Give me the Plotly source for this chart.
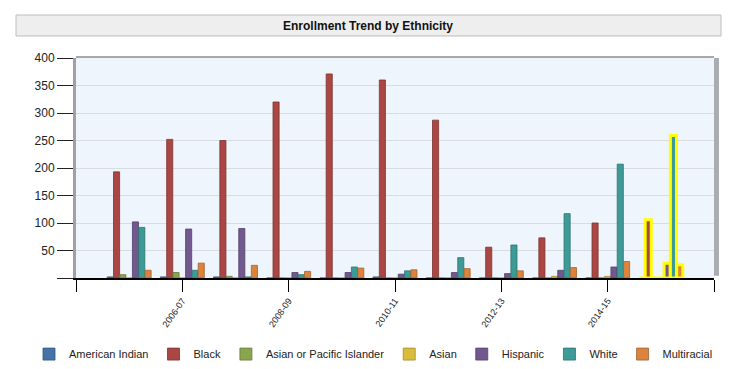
import plotly.graph_objects as go

years = ["2005-06", "2006-07", "2007-08", "2008-09", "2009-10", "2010-11",
         "2011-12", "2012-13", "2013-14", "2014-15", "2015-16"]
x_pos = list(range(len(years)))

american_indian = [2, 2, 2, 0, 0, 2, 0, 0, 0, 0, 0]
black = [193, 252, 250, 320, 371, 360, 287, 56, 73, 100, 106]
asian_pacific = [6, 10, 3, 0, 0, 0, 0, 0, 0, 0, 0]
asian = [0, 0, 0, 0, 0, 0, 0, 0, 3, 3, 0]
hispanic = [102, 89, 90, 10, 10, 7, 10, 8, 14, 20, 27]
white = [92, 14, 2, 6, 20, 13, 37, 60, 117, 207, 259]
multiracial = [14, 27, 23, 12, 18, 15, 17, 13, 19, 30, 24]

series_names = ["American Indian", "Black", "Asian or Pacific Islander", "Asian",
                "Hispanic", "White", "Multiracial"]
series_values = [american_indian, black, asian_pacific, asian, hispanic, white, multiracial]
colors = ["#4572A7", "#AA4643", "#89A54E", "#D9BC3C", "#71588F", "#3D9A96", "#DB843D"]
edge_colors = ["#34567E", "#7E3331", "#667B39", "#A48D2B", "#54416B", "#2C726F", "#A4622D"]

x_tickvals = [-1, 1, 3, 5, 7, 9, 11]
x_ticktext = ["", "2006-07", "2008-09", "2010-11", "2012-13", "2014-15", ""]
y_tickvals = [0, 50, 100, 150, 200, 250, 300, 350, 400]
y_ticktext = ["", "50", "100", "150", "200", "250", "300", "350", "400"]

highlight_index = len(years) - 1

fig = go.Figure()
for name, vals, col, ec in zip(series_names, series_values, colors, edge_colors):
    lc = [ec] * len(vals)
    lw = [0.8] * len(vals)
    lc[highlight_index] = "#FFFF00"
    lw[highlight_index] = 3
    fig.add_trace(go.Bar(
        x=x_pos, y=vals, name=name,
        marker=dict(color=col, line=dict(color=lc, width=lw)),
        customdata=years,
        hovertemplate="%{customdata}: %{y}<extra>" + name + "</extra>",
    ))

# page body has an 8px default margin, so the figure is 8px smaller and all
# margins are shifted by 8px to land where the reference has them
fig.update_layout(
    width=732, height=361,
    paper_bgcolor="white",
    plot_bgcolor="#EEF5FC",
    barmode="group",
    bargap=0.17,
    bargroupgap=0.03,
    margin=dict(l=68, r=26, t=50, b=91, autoexpand=False),
    font=dict(family="Arial", size=11, color="#222222"),
    showlegend=True,
    legend=dict(orientation="h", x=-47/638, xanchor="left", y=-0.28, yanchor="top",
                font=dict(size=11, family="Arial", color="#222222"),
                itemwidth=30, traceorder="normal", tracegroupgap=0),
    xaxis=dict(
        range=[-1, 11],
        tickmode="array", tickvals=x_tickvals, ticktext=x_ticktext,
        tickangle=-55, tickfont=dict(size=9, family="Arial", color="#222222"),
        ticks="outside", ticklen=12, tickcolor="#000000", tickwidth=1,
        showline=True, linecolor="#000000", linewidth=2,
        showgrid=False, zeroline=False,
    ),
    yaxis=dict(
        range=[0, 400],
        tickmode="array", tickvals=y_tickvals, ticktext=y_ticktext,
        tickfont=dict(size=12, family="Arial", color="#222222"),
        ticks="outside", ticklen=16, tickcolor="#222222", tickwidth=1,
        showline=True, linecolor="#A0A0A0", linewidth=3,
        showgrid=True, gridcolor="#D6DCE2", gridwidth=1,
        zeroline=False,
    ),
    shapes=[
        # title box
        dict(type="rect", xref="paper", yref="paper",
             x0=-60/638, x1=645/638, y0=(278-36)/220, y1=(278-15)/220,
             fillcolor="#EEEEEE", line=dict(color="#BDBDBD", width=1), layer="below"),
        # top wall edge
        dict(type="line", xref="paper", yref="paper", x0=0, x1=1, y0=1.004, y1=1.004,
             line=dict(color="#A8A8A8", width=2)),
        # right wall depth
        dict(type="rect", xref="paper", yref="paper", x0=1, x1=1 + 5/638, y0=0.01, y1=1.0,
             fillcolor="#A9ADB1", line=dict(width=0)),
    ],
    annotations=[
        dict(text="<b>Enrollment Trend by Ethnicity</b>", xref="paper", yref="paper",
             x=(368-76)/638, y=(278-25.5)/220, xanchor="center", yanchor="middle",
             showarrow=False, font=dict(size=12, family="Arial", color="#111111")),
    ],
)

fig.write_html("out.html")
